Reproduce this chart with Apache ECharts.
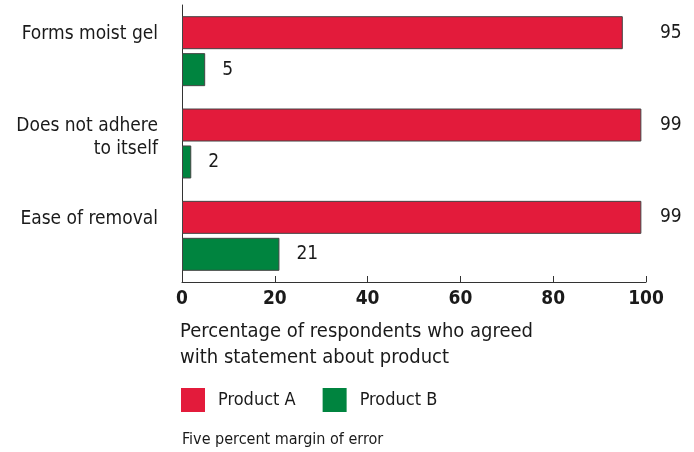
<!DOCTYPE html>
<html>
<head>
<meta charset="utf-8">
<script src="https://cdn.jsdelivr.net/npm/echarts@6/dist/echarts.min.js"></script>
<style>
  html, body { margin: 0; padding: 0; background: #fff; }
  #main { width: 694px; height: 452px; }
</style>
</head>
<body>
<div id="main"></div>
<script>
var categories = ['Forms moist gel', 'Does not adhere\nto itself', 'Ease of removal']
var productA = [95, 99, 99]
var productB = [5, 2, 21]
var xTicks = [0, 20, 40, 60, 80, 100]

var font = "'Liberation Sans Narrow', 'DejaVu Sans Condensed', Arial, sans-serif"
var red = '#e31b3b'
var green = '#00843f'

// invisible remainder up to 100, only used to park the Product A value labels
var restA = productA.map(function (v) { return xTicks[xTicks.length - 1] - v })

var element = document.querySelector('#main')
var myChart = echarts.init(element)

var option = {
    animation: false,
    textStyle: { fontFamily: font },
    grid: { left: 182, right: 48, top: 5, bottom: 170 },
    title: [
        {
            text: 'Percentage of respondents who agreed\nwith statement about product',
            left: 175, top: 314,
            textStyle: { fontFamily: font, fontSize: 20, fontWeight: 'normal', color: '#1a1a1a', lineHeight: 26 }
        },
        {
            text: 'Five percent margin of error',
            left: 177, top: 427,
            textStyle: { fontFamily: font, fontSize: 16, fontWeight: 'normal', color: '#1a1a1a' }
        }
    ],
    legend: {
        data: ['Product A', 'Product B'],
        left: 176, top: 383,
        icon: 'rect',
        itemWidth: 24, itemHeight: 24, itemGap: 27,
        itemStyle: { borderWidth: 0 },
        textStyle: { fontFamily: font, fontSize: 18, color: '#1a1a1a', padding: [0, 0, 0, 8] }
    },
    xAxis: {
        type: 'value',
        min: 0, max: 100, interval: 20,
        splitLine: { show: false },
        axisLine: { show: true, lineStyle: { color: '#333', width: 1 } },
        axisTick: { show: true, inside: true, length: 6, lineStyle: { color: '#333' } },
        axisLabel: {
            margin: 8, fontFamily: font, fontSize: 19, fontWeight: 'bold', color: '#1a1a1a',
            formatter: function (v) { return xTicks.indexOf(v) >= 0 ? String(v) : '' }
        }
    },
    yAxis: {
        type: 'category',
        inverse: true,
        data: categories,
        axisLine: { show: true, lineStyle: { color: '#333', width: 1 } },
        axisTick: { show: false },
        axisLabel: { show: false }
    },
    series: [
        {
            name: 'Product A',
            type: 'bar',
            stack: 'a',
            data: productA,
            barWidth: 33,
            barGap: '12%',
            itemStyle: { color: red, borderColor: '#444', borderWidth: 1 },
            label: {
                show: true,
                position: 'left',
                distance: 24,
                align: 'right',
                verticalAlign: 'top',
                offset: [0, -10],
                lineHeight: 23,
                fontFamily: font, fontSize: 19, color: '#1a1a1a',
                formatter: function (p) { return categories[p.dataIndex] }
            }
        },
        {
            name: 'restA',
            type: 'bar',
            stack: 'a',
            data: restA,
            silent: true,
            itemStyle: { color: 'rgba(0,0,0,0)' },
            label: {
                show: true,
                position: 'right',
                distance: 14,
                fontFamily: font, fontSize: 19, color: '#1a1a1a',
                formatter: function (p) { return productA[p.dataIndex] }
            }
        },
        {
            name: 'Product B',
            type: 'bar',
            data: productB,
            barWidth: 33,
            itemStyle: { color: green, borderColor: '#444', borderWidth: 1 },
            label: {
                show: true,
                position: 'right',
                distance: 17,
                fontFamily: font, fontSize: 19, color: '#1a1a1a'
            }
        }
    ]
}

myChart.setOption(option)
</script>
</body>
</html>
